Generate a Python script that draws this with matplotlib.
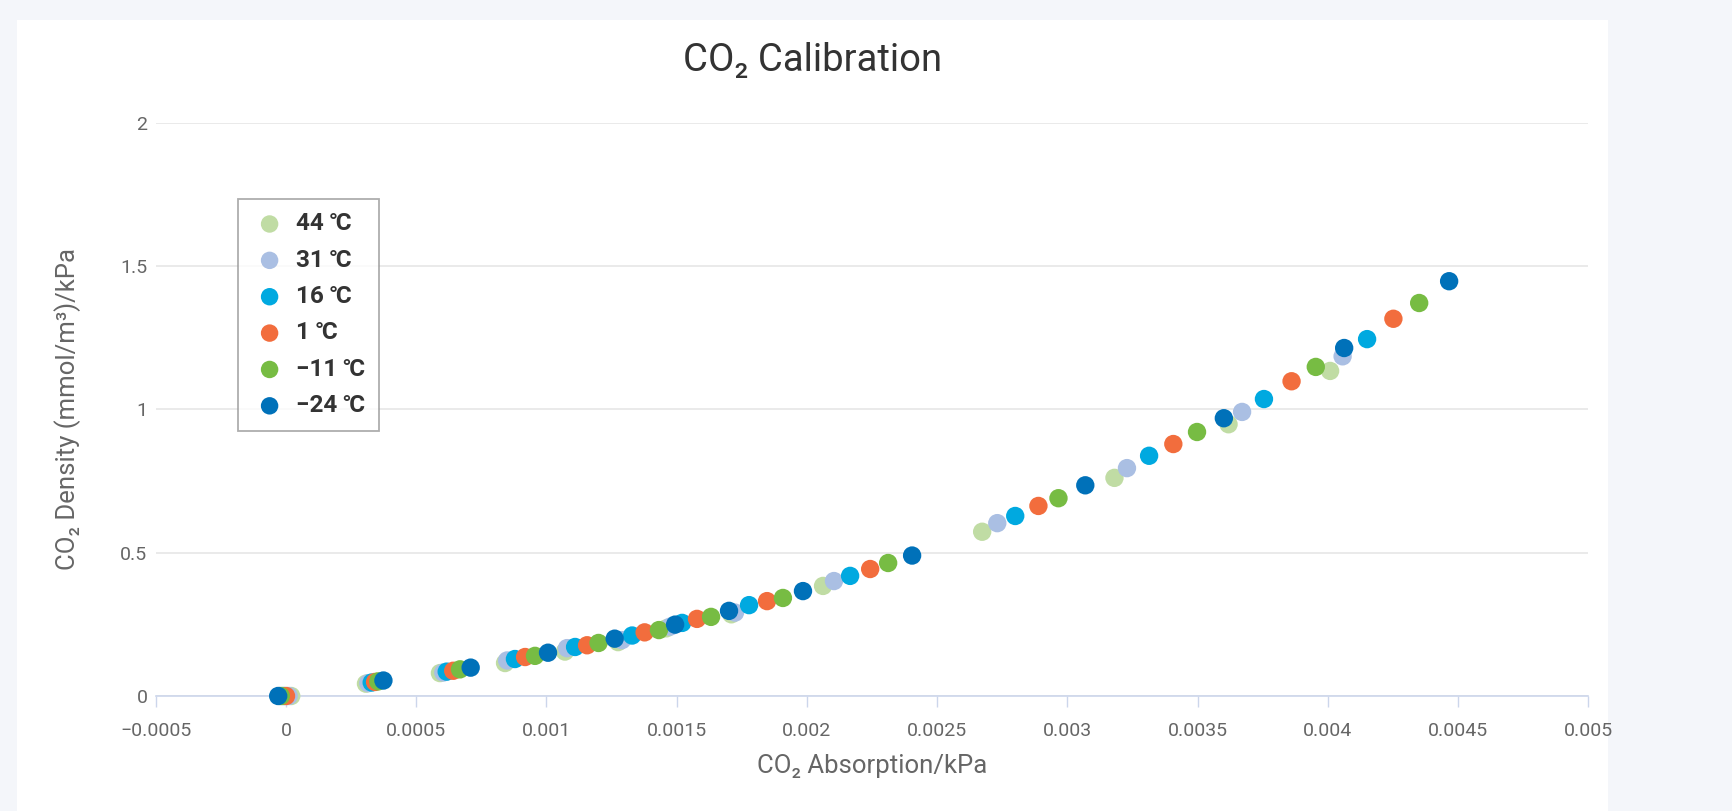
import matplotlib
matplotlib.use('Agg')
import matplotlib.pyplot as plt
from matplotlib.patches import Rectangle

# DATA
temps = ['44 ℃', '31 ℃', '16 ℃', '1 ℃', '−11 ℃', '−24 ℃']
colors = ['#c0dca4', '#aabfe3', '#00a9e0', '#f26d3d', '#77bc43', '#0071b9']

x_44 = [0.00002, 0.000307, 0.000591, 0.000841, 0.001071, 0.001275, 0.001460,
        0.001710, 0.002062, 0.002673, 0.003181, 0.003619, 0.004009]
y_44 = [0.0, 0.043, 0.080, 0.115, 0.155, 0.188, 0.236, 0.285, 0.384, 0.573,
        0.761, 0.948, 1.134]

x_31 = [0.00001, 0.000316, 0.000604, 0.000849, 0.001079, 0.001290, 0.001475,
        0.001724, 0.002104, 0.002731, 0.003229, 0.003671, 0.004057]
y_31 = [0.0, 0.045, 0.082, 0.124, 0.167, 0.195, 0.242, 0.291, 0.401, 0.603,
        0.795, 0.991, 1.185]

x_16 = [-0.00001, 0.000329, 0.000617, 0.000879, 0.001110, 0.001329, 0.001521,
        0.001778, 0.002166, 0.002800, 0.003314, 0.003755, 0.004151]
y_16 = [0.0, 0.047, 0.085, 0.129, 0.171, 0.211, 0.255, 0.317, 0.419, 0.628,
        0.838, 1.036, 1.245]

x_1 = [0.0, 0.000342, 0.000642, 0.000918, 0.001156, 0.001377, 0.001578,
       0.001847, 0.002243, 0.002889, 0.003407, 0.003861, 0.004252]
y_1 = [0.0, 0.049, 0.088, 0.136, 0.177, 0.222, 0.269, 0.331, 0.443, 0.663,
       0.879, 1.098, 1.316]

x_m11 = [-0.00002, 0.000354, 0.000668, 0.000956, 0.001200, 0.001432, 0.001632,
         0.001908, 0.002312, 0.002966, 0.003498, 0.003954, 0.004351]
y_m11 = [0.0, 0.051, 0.093, 0.140, 0.185, 0.230, 0.276, 0.342, 0.464, 0.690,
         0.921, 1.148, 1.371]

x_m24 = [-0.00003, 0.000374, 0.000709, 0.001006, 0.001262, 0.001494, 0.001701,
         0.001985, 0.002404, 0.003069, 0.003601, 0.004063, 0.004466]
y_m24 = [0.0, 0.054, 0.099, 0.151, 0.200, 0.249, 0.297, 0.366, 0.490, 0.735,
         0.969, 1.214, 1.447]

xs = [x_44, x_31, x_16, x_1, x_m11, x_m24]
ys = [y_44, y_31, y_16, y_1, y_m11, y_m24]

x_ticks = [-0.0005, 0, 0.0005, 0.001, 0.0015, 0.002, 0.0025, 0.003, 0.0035,
           0.004, 0.0045, 0.005]
x_ticklabels = ['−0.0005', '0', '0.0005', '0.001', '0.0015', '0.002', '0.0025',
                '0.003', '0.0035', '0.004', '0.0045', '0.005']
y_ticks = [0, 0.5, 1, 1.5, 2]
y_ticklabels = ['0', '0.5', '1', '1.5', '2']

FONT = ['Roboto', 'DejaVu Sans']
plt.rcParams['font.family'] = FONT

W, H = 1733, 811
fig = plt.figure(figsize=(W / 100, H / 100), dpi=100)
fig.patch.set_facecolor('#f4f6fa')
# white card behind the chart
fig.add_artist(Rectangle((17 / W, 0), (1608 - 17) / W, (H - 20) / H,
                         transform=fig.transFigure, facecolor='white',
                         edgecolor='none', zorder=0))

ax = fig.add_axes([155.8 / W, (H - 696) / H, 1432.4 / W, 573.3 / H])
ax.set_facecolor('none')

for x, y, c, lab in zip(xs, ys, colors, temps):
    ax.scatter(x, y, s=175, color=c, edgecolors='none', label=lab, zorder=3,
               clip_on=False)

ax.set_xlim(-0.0005, 0.005)
ax.set_ylim(0, 2)
ax.set_xticks(x_ticks)
ax.set_xticklabels(x_ticklabels)
ax.set_yticks(y_ticks)
ax.set_yticklabels(y_ticklabels)

ax.grid(axis='y', color='#e6e6e6', linewidth=1.2)
ax.set_axisbelow(True)
for s in ['top', 'right', 'left']:
    ax.spines[s].set_visible(False)
ax.spines['bottom'].set_color('#ccd6eb')
ax.spines['bottom'].set_linewidth(1.2)

ax.tick_params(axis='x', length=8, width=1, color='#ccd6eb', pad=11,
               labelsize=14, labelcolor='#666666')
ax.tick_params(axis='y', length=0, pad=6, labelsize=14, labelcolor='#666666')

ax.set_xlabel('CO₂ Absorption/kPa', fontsize=18.5, color='#666666', labelpad=10)
ax.set_ylabel('CO₂ Density (mmol/m³)/kPa', fontsize=18.5, color='#666666',
              labelpad=28)

fig.text(813 / W, 1 - 60 / H, 'CO₂ Calibration', fontsize=27.5, color='#333333',
         ha='center', va='center')

leg = ax.legend(loc='upper left', bbox_to_anchor=(238 / W, 1 - 199 / H),
                bbox_transform=fig.transFigure, borderaxespad=0,
                frameon=True, fancybox=False, edgecolor='#999999',
                prop={'family': FONT, 'weight': 'bold', 'size': 17.5},
                labelspacing=0.55, handletextpad=0.35, borderpad=0.55,
                markerscale=0.95, handlelength=1.5)
leg.get_frame().set_linewidth(1.3)
for t in leg.get_texts():
    t.set_color('#333333')

fig.savefig('out.png', dpi=100)
